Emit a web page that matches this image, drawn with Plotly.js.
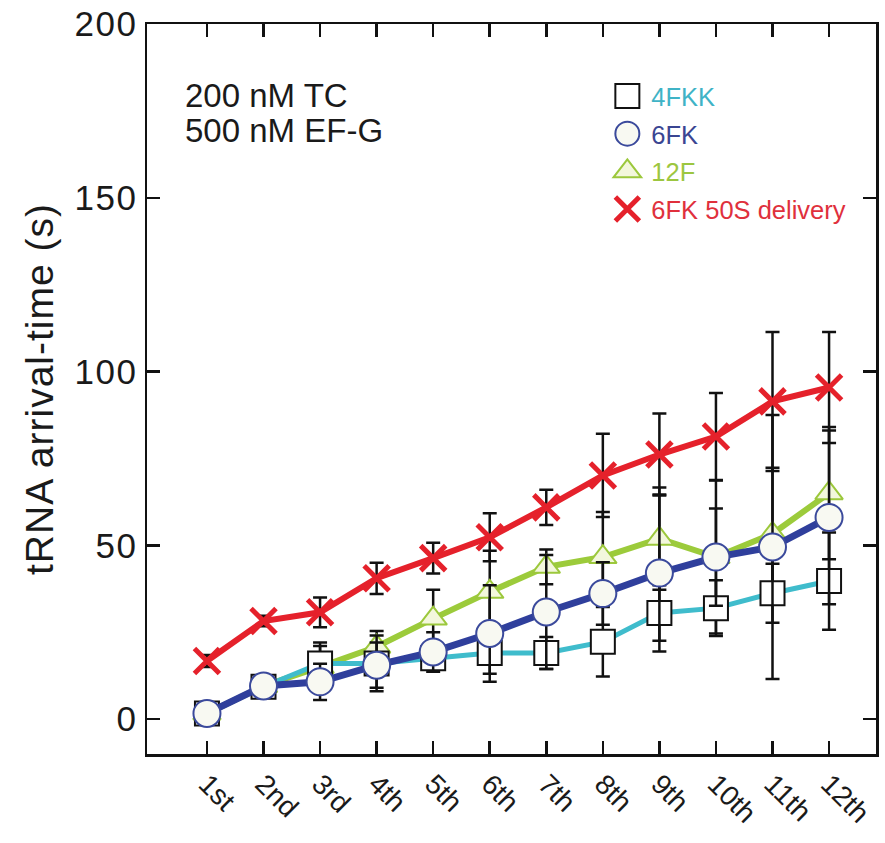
<!DOCTYPE html>
<html>
<head>
<meta charset="utf-8">
<script src="https://cdn.plot.ly/plotly-3.0.1.min.js"></script>
<style>
html, body { margin: 0; padding: 0; background: #ffffff; }
#chart { width: 885px; height: 843px; }
#chart .ytick text { letter-spacing: 1.5px; }
#chart .ytitle { letter-spacing: 1px; }
</style>
</head>
<body>
<div id="chart"></div>
<script>
// ---- data ----
var categories = ['1st', '2nd', '3rd', '4th', '5th', '6th', '7th', '8th', '9th', '10th', '11th', '12th'];

var names = ['4FKK', '6FK', '12F', '6FK 50S delivery'];

var v4FKK = [1.6, 9.3, 16.0, 16.0, 17.5, 19.0, 19.0, 22.2, 30.5, 31.9, 36.2, 39.7];
var e4FKK = [0, 0.5, 6, 8, 3, 6, 4.6, 10, 8, 8, 8.5, 14];

var v6FK = [1.6, 9.5, 10.7, 15.5, 19.3, 24.6, 30.8, 36.1, 42.0, 46.6, 49.5, 58.0];
var e6FK = [0, 0.5, 5.2, 6.5, 5.7, 13.9, 16.4, 9, 22.6, 14, 38, 25];

var v12F = [1.6, 9.5, 15.0, 20.8, 28.9, 36.6, 43.8, 46.6, 51.9, 46.6, 53.3, 65.0];
var e12F = [0, 0.5, 6, 4.5, 8.3, 11.8, 5, 13, 14.7, 22, 19, 19];

var vDel = [16.7, 28.2, 30.7, 40.5, 46.3, 52.3, 60.9, 70.1, 76.1, 81.3, 91.4, 95.4];
var eDel = [1.7, 1.5, 4.3, 4.5, 4.4, 6.9, 5.1, 12, 11.8, 12.5, 20, 16];

var yTicks = [0, 50, 100, 150, 200];
var noteLines = ['200 nM TC', '500 nM EF-G'];

// ---- styles ----
var FONT = 'Liberation Sans, Arial, Helvetica, sans-serif';
var colCyan = '#3fbccc', colBlue = '#2f3f9c', colGreen = '#9ccb3b', colRed = '#e5212b';
var txtCyan = '#3fb3c6', txtBlue = '#3a4592', txtGreen = '#9cc640', txtRed = '#e0303c';

function err(arr) {
  return { type: 'data', array: arr, visible: true, color: '#111111', thickness: 2.5, width: 7 };
}

var mk4 = { symbol: 'square', size: 24, color: '#ffffff', line: { color: '#111111', width: 2 } };
var mk6 = { symbol: 'circle', size: 27, color: '#f8f9f2', line: { color: '#3b4a9c', width: 2 } };
var mk12 = { symbol: 'triangle-up', size: 24, color: '#f3f7dc', line: { color: '#9cc83c', width: 2 } };
var mkD = { symbol: 'x-thin', size: 25, color: colRed, line: { color: colRed, width: 5 } };

var traces = [
  { x: categories, y: v12F, name: names[2], type: 'scatter', mode: 'lines+markers',
    line: { color: colGreen, width: 6 }, marker: mk12, error_y: err(e12F), showlegend: false },
  { x: categories, y: v4FKK, name: names[0], type: 'scatter', mode: 'lines+markers',
    line: { color: colCyan, width: 5 }, marker: mk4, error_y: err(e4FKK), showlegend: false },
  { x: categories, y: v6FK, name: names[1], type: 'scatter', mode: 'lines+markers',
    line: { color: colBlue, width: 7 }, marker: mk6, error_y: err(e6FK), showlegend: false },
  { x: categories, y: vDel, name: names[3], type: 'scatter', mode: 'lines+markers',
    line: { color: colRed, width: 6 }, marker: mkD, error_y: err(eDel), showlegend: false },
  // legend entries (markers only, as in the reference legend)
  { x: [null], y: [null], type: 'scatter', mode: 'markers', marker: mk4, legendgroup: 'g1',
    name: '<span style="color:' + txtCyan + '">' + names[0] + '</span>', showlegend: true, hoverinfo: 'skip' },
  { x: [null], y: [null], type: 'scatter', mode: 'markers', marker: mk6, legendgroup: 'g2',
    name: '<span style="color:' + txtBlue + '">' + names[1] + '</span>', showlegend: true, hoverinfo: 'skip' },
  { x: [null], y: [null], type: 'scatter', mode: 'markers', marker: mk12, legendgroup: 'g3',
    name: '<span style="color:' + txtGreen + '">' + names[2] + '</span>', showlegend: true, hoverinfo: 'skip' },
  { x: [null], y: [null], type: 'scatter', mode: 'markers', marker: mkD, legendgroup: 'g4',
    name: '<span style="color:' + txtRed + '">' + names[3] + '</span>', showlegend: true, hoverinfo: 'skip' }
];

var layout = {
  width: 885, height: 843,
  margin: { l: 147, r: 9, t: 24, b: 89, pad: 0 },
  paper_bgcolor: '#ffffff', plot_bgcolor: '#ffffff',
  font: { family: FONT, color: '#1a1a1a' },
  showlegend: true,
  legend: {
    x: 0.626, y: 0.933, xanchor: 'left', yanchor: 'top',
    bgcolor: 'rgba(0,0,0,0)', borderwidth: 0,
    font: { family: FONT, size: 25.5 },
    traceorder: 'grouped', tracegroupgap: 1.5,
    itemwidth: 38
  },
  xaxis: {
    type: 'category', categoryorder: 'array', categoryarray: categories,
    range: [-1.06, 11.83],
    showgrid: false, zeroline: false,
    showline: true, linecolor: '#111111', linewidth: 2.5, mirror: 'ticks',
    ticks: 'inside', ticklen: 13, tickwidth: 2.5, tickcolor: '#111111',
    tickangle: 45,
    tickfont: { family: FONT, size: 28, color: '#1a1a1a' },
    fixedrange: true
  },
  yaxis: {
    range: [-10.07, 200],
    tickvals: yTicks, ticktext: yTicks.map(String),
    showgrid: false, zeroline: false,
    showline: true, linecolor: '#111111', linewidth: 2.5, mirror: 'ticks',
    ticks: 'inside', ticklen: 13, tickwidth: 2.5, tickcolor: '#111111',
    tickfont: { family: FONT, size: 35, color: '#1a1a1a' },
    title: { text: 'tRNA arrival-time (s)', font: { family: FONT, size: 39, color: '#1a1a1a' }, standoff: 14 },
    fixedrange: true
  },
  annotations: [
    { xref: 'paper', yref: 'paper', x: 0.05, y: 0.902, xanchor: 'left', yanchor: 'middle',
      text: noteLines[0], showarrow: false, font: { family: FONT, size: 33, color: '#1a1a1a' } },
    { xref: 'paper', yref: 'paper', x: 0.05, y: 0.854, xanchor: 'left', yanchor: 'middle',
      text: noteLines[1], showarrow: false, font: { family: FONT, size: 33, color: '#1a1a1a' } }
  ]
};

Plotly.newPlot('chart', traces, layout, { displayModeBar: false, staticPlot: true }).then(function (gd) {
  // enlarge legend symbols to the size used in the reference legend
  var pts = gd.querySelectorAll('.legend .legendpoints path.scatterpts');
  pts.forEach(function (p) {
    var t = p.getAttribute('transform') || '';
    p.setAttribute('transform', t + ' scale(1.5)');
    var sw = parseFloat(p.style.strokeWidth || '2');
    p.style.strokeWidth = (sw / 1.5) + 'px';
  });
});
</script>
</body>
</html>
